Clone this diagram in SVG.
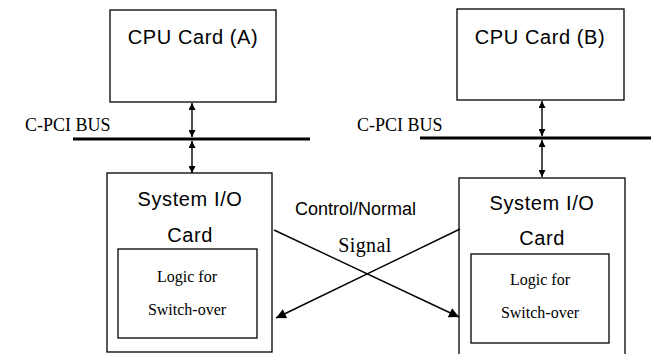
<svg xmlns="http://www.w3.org/2000/svg" width="651" height="354" viewBox="0 0 651 354">
<style>
.box{fill:#fff;stroke:#000;stroke-width:1.3}
.sans{font-family:"Liberation Sans",Arial,sans-serif;fill:#000}
.serif{font-family:"Liberation Serif","Times New Roman",serif;fill:#000}
.big{font-size:20px;letter-spacing:0.6px}
.small{font-size:16px}
.bus{stroke:#000;stroke-width:3}
.line{stroke:#000;stroke-width:1.4;fill:none}
</style>
<defs>
<marker id="ah" viewBox="0 0 10 10" refX="10" refY="5" markerWidth="7" markerHeight="7" orient="auto-start-reverse" markerUnits="userSpaceOnUse">
<path d="M0,0 L10,5 L0,10 z" fill="#000"/>
</marker>
<marker id="ahb" viewBox="0 0 10 10" refX="10" refY="5" markerWidth="12" markerHeight="10" orient="auto" markerUnits="userSpaceOnUse">
<path d="M0,0 L10,5 L0,10 z" fill="#000"/>
</marker>
</defs>
<rect width="651" height="354" fill="#fff"/>
<g id="cpuA">
<rect class="box" x="110" y="10" width="166" height="92"/>
<text class="sans big" x="193" y="44" text-anchor="middle">CPU Card (A)</text>
</g>
<g id="cpuB">
<rect class="box" x="457" y="9" width="167" height="91"/>
<text class="sans big" x="540" y="44" text-anchor="middle">CPU Card (B)</text>
</g>
<g id="busA">
<line class="bus" x1="73" y1="139" x2="310" y2="139"/>
<text class="serif" x="25" y="131" font-size="18">C-PCI BUS</text>
</g>
<g id="busB">
<line class="bus" x1="420" y1="138" x2="651" y2="138"/>
<text class="serif" x="357" y="131" font-size="18">C-PCI BUS</text>
</g>
<g id="ioA">
<rect class="box" x="107" y="173" width="165" height="179"/>
<text class="sans big" x="190" y="206" text-anchor="middle">System I/O</text>
<text class="sans big" x="190" y="242" text-anchor="middle">Card</text>
<rect class="box" x="118" y="249" width="139" height="89"/>
<text class="serif small" x="187" y="282" text-anchor="middle">Logic for</text>
<text class="serif small" x="187" y="315" text-anchor="middle">Switch-over</text>
</g>
<g id="ioB">
<rect class="box" x="459" y="178" width="166" height="180"/>
<text class="sans big" x="542" y="210" text-anchor="middle">System I/O</text>
<text class="sans big" x="542" y="245" text-anchor="middle">Card</text>
<rect class="box" x="471" y="254" width="138" height="89"/>
<text class="serif small" x="540" y="285" text-anchor="middle">Logic for</text>
<text class="serif small" x="540" y="318" text-anchor="middle">Switch-over</text>
</g>
<g id="signal">
<text class="sans" x="295" y="215" font-size="18">Control/Normal</text>
<text class="serif" x="365" y="252" font-size="20" letter-spacing="0.4" text-anchor="middle">Signal</text>
</g>
<g id="connectors">
<line class="line" x1="192" y1="103" x2="192" y2="137" marker-start="url(#ah)" marker-end="url(#ah)"/>
<line class="line" x1="192" y1="141" x2="192" y2="173" marker-start="url(#ah)" marker-end="url(#ah)"/>
<line class="line" x1="542" y1="101" x2="542" y2="136" marker-start="url(#ah)" marker-end="url(#ah)"/>
<line class="line" x1="542" y1="140" x2="542" y2="177" marker-start="url(#ah)" marker-end="url(#ah)"/>
<line class="line" x1="274" y1="230" x2="459" y2="317" marker-end="url(#ahb)"/>
<line class="line" x1="460" y1="229" x2="276" y2="318" marker-end="url(#ahb)"/>
</g>
</svg>
